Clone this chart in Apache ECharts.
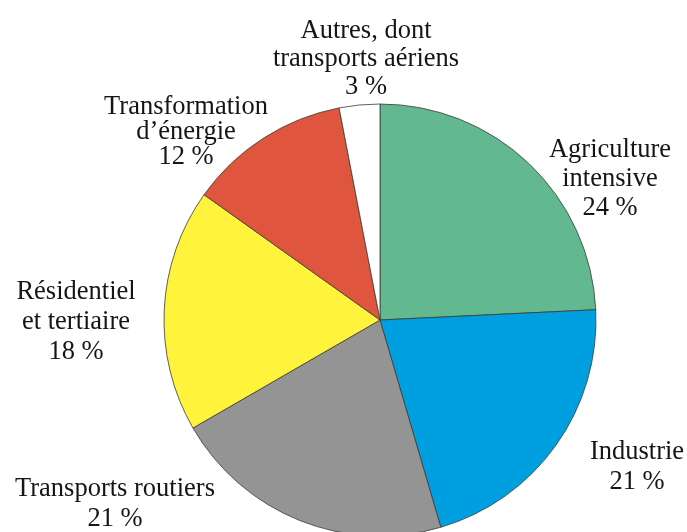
<!DOCTYPE html>
<html>
<head>
<meta charset="utf-8">
<script src="https://cdn.jsdelivr.net/npm/echarts@6/dist/echarts.min.js"></script>
<style>
  html, body { margin: 0; padding: 0; background: #fff; }
  #pie-chart { width: 687px; height: 532px; }
</style>
</head>
<body>
<div id="pie-chart"></div>
<script>
  // parts des émissions, dans l'ordre des aiguilles d'une montre depuis midi
  const categories = [
    'Agriculture\nintensive',
    'Industrie',
    'Transports routiers',
    'Résidentiel\net tertiaire',
    'Transformation\nd\u2019énergie',
    'Autres, dont\ntransports aériens'
  ]
  const shares = [24, 21, 21, 18, 12, 3]
  const colors = ['#63b98f', '#00a0e0', '#949494', '#fff33b', '#e0553d', '#ffffff']

  // centre des étiquettes (px)
  const labelX = [610, 637, 115, 76, 186, 366]
  const labelY = [179, 467, 504, 322, 132, 59]
  const labelLH = [29, 30, 30, 30, 25, 28]

  const myChart = echarts.init(document.getElementById('pie-chart'))

  const data = categories.map((name, i) => ({
    name: name,
    value: shares[i],
    itemStyle: { color: colors[i] },
    label: { lineHeight: labelLH[i] }
  }))

  myChart.setOption({
    animation: false,
    series: [{
      type: 'pie',
      center: [380, 320],
      radius: 216,
      startAngle: 90,
      clockwise: true,
      data: data,
      itemStyle: {
        borderColor: '#3a3a3a',
        borderWidth: 0.8
      },
      label: {
        show: true,
        position: 'outside',
        formatter: '{b}\n{c} %',
        fontFamily: 'Liberation Serif',
        fontSize: 26.5,
        color: '#151515',
        align: 'center',
        overflow: 'none',
        width: 300
      },
      labelLine: { show: false },
      labelLayout: function (params) {
        const i = params.dataIndex
        return {
          x: labelX[i],
          y: labelY[i],
          align: 'center',
          verticalAlign: 'middle',
          hideOverlap: false
        }
      },
      emphasis: { disabled: true }
    }]
  })
</script>
</body>
</html>
